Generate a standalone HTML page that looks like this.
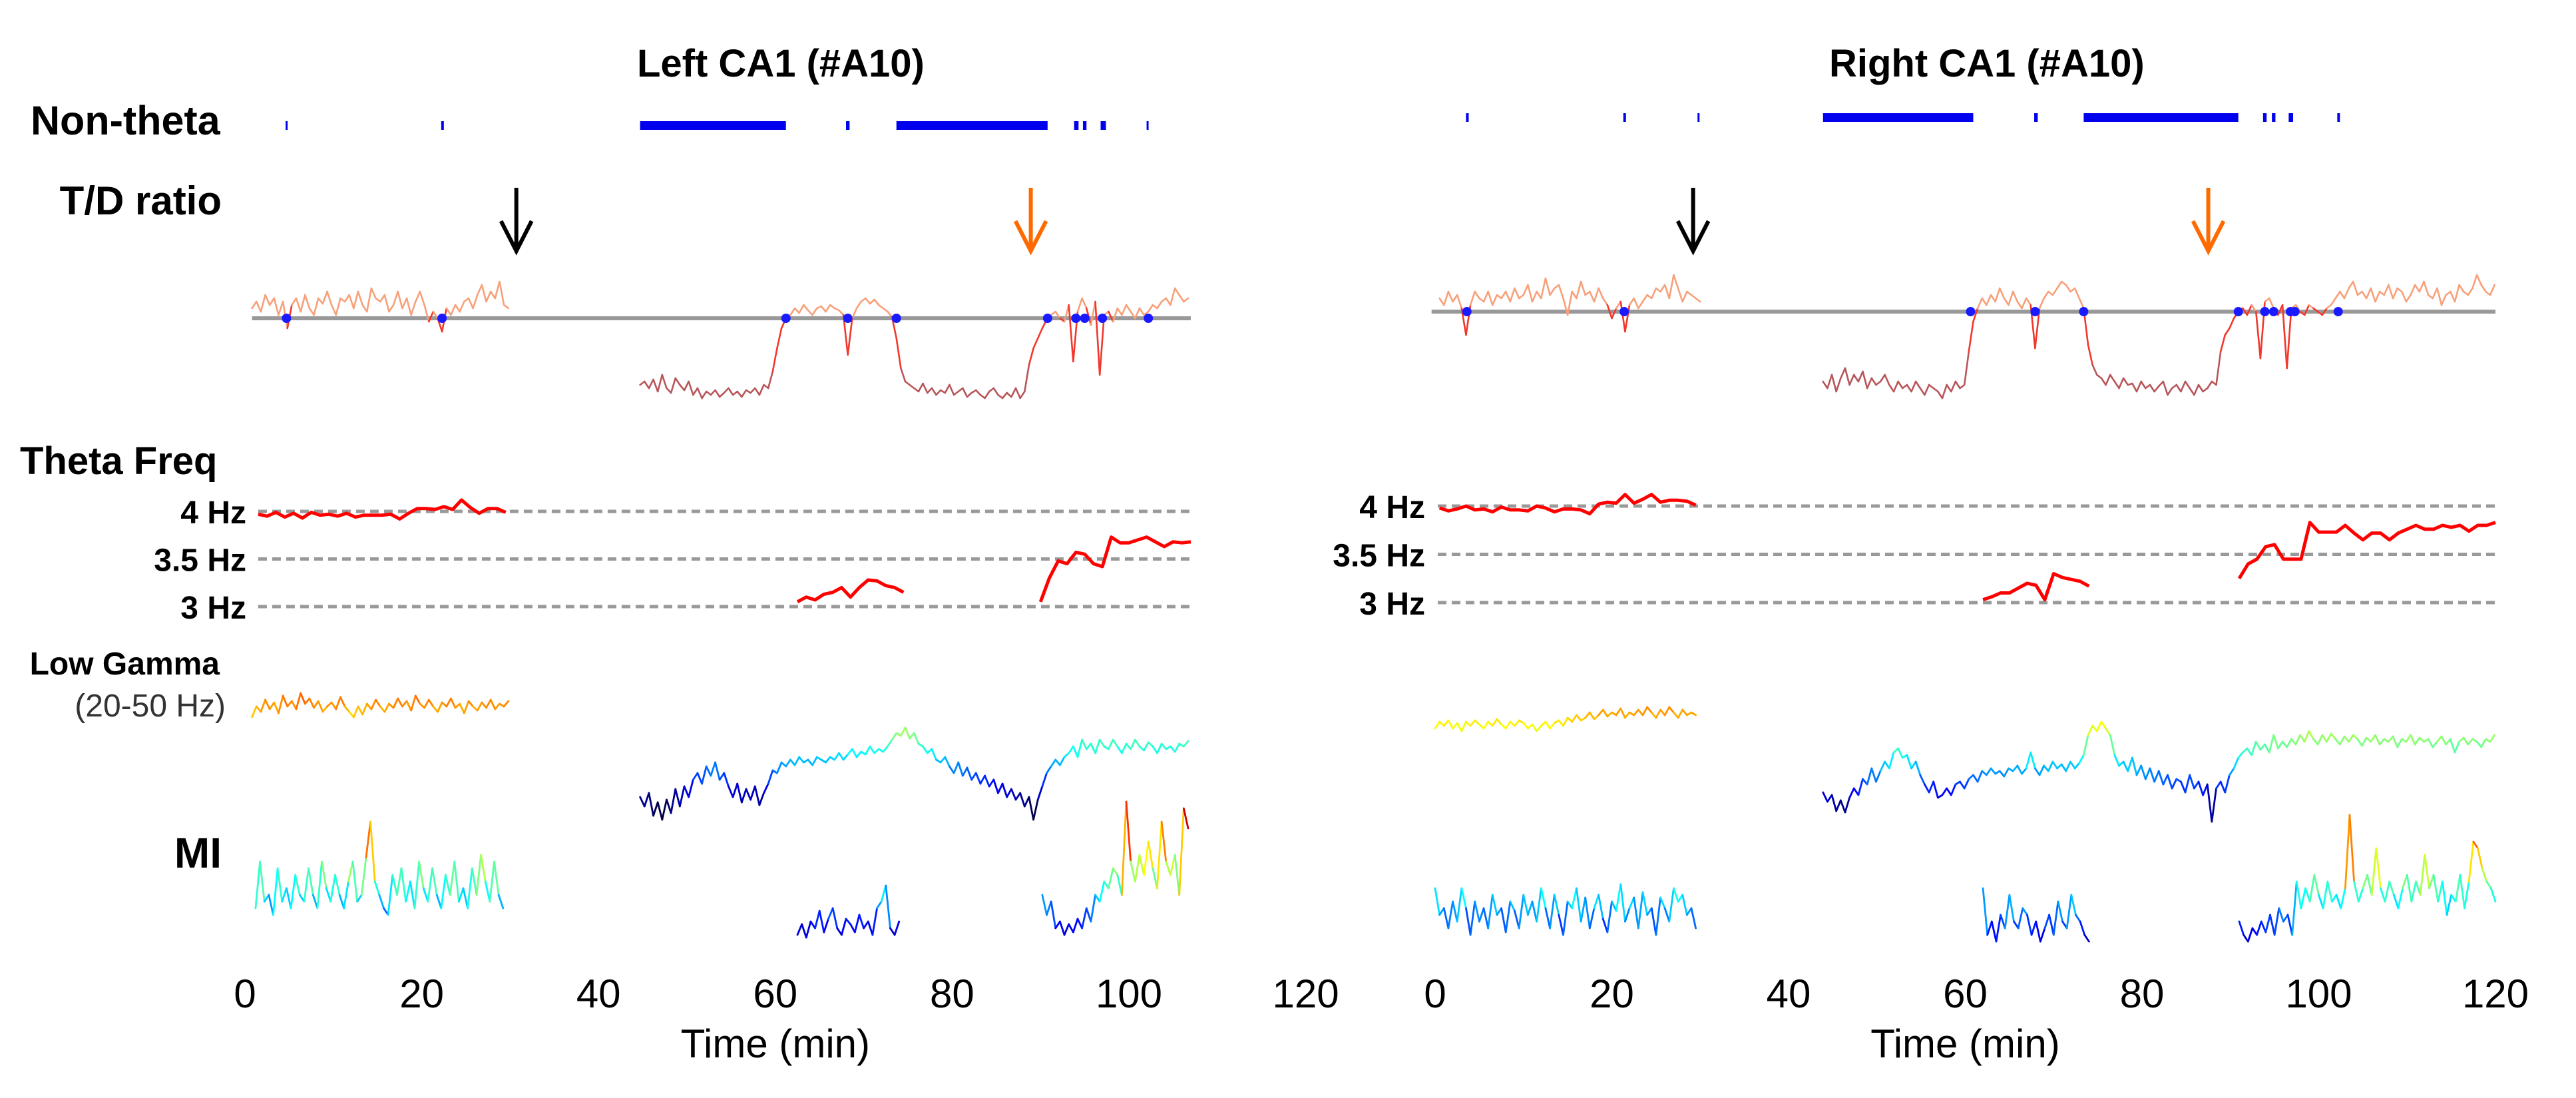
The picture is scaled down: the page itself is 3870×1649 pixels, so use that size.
<!DOCTYPE html>
<html><head><meta charset="utf-8"><title>CA1 recordings</title>
<style>
html,body{margin:0;padding:0;background:#fff;}
svg{display:block;font-family:"Liberation Sans",Arial,sans-serif;}
.lbl{font-weight:bold;fill:#000;}
</style></head>
<body>
<svg id="chart" width="3870" height="1649" viewBox="0 0 3870 1649" xmlns="http://www.w3.org/2000/svg">
<rect width="3870" height="1649" fill="#fff"/>
<text class="lbl" x="957" y="115" font-size="58">Left CA1 (#A10)</text>
<text class="lbl" x="2748" y="115" font-size="58">Right CA1 (#A10)</text>
<text class="lbl" x="46" y="202" font-size="61">Non-theta</text>
<text class="lbl" x="333" y="322" font-size="60" text-anchor="end">T/D ratio</text>
<text class="lbl" x="30" y="712" font-size="58">Theta Freq</text>
<text class="lbl" x="330" y="1013" font-size="48" text-anchor="end">Low Gamma</text>
<text x="339" y="1076" font-size="48" text-anchor="end" fill="#333">(20-50 Hz)</text>
<text class="lbl" x="333" y="1303" font-size="64" text-anchor="end">MI</text>
<g id="marks"></g>
</svg>
<script>
// ---------- data ----------
const xTicks = [0,20,40,60,80,100,120];
const hzTicks = [4,3.5,3];
const hzTickLabels = ["4 Hz","3.5 Hz","3 Hz"];

const leftNonTheta = [[4.6,4.7],[22.2,22.5],[44.7,61.2],[68.0,68.4],[73.7,90.8],[93.8,94.3],[94.8,95.2],[96.8,97.4],[102.0,102.1]];
const rightNonTheta = [[3.5,3.8],[21.3,21.6],[29.7,29.8],[43.9,60.9],[67.8,68.2],[73.4,90.9],[93.7,94.1],[94.7,95.1],[96.6,97.1],[102.1,102.4]];
const leftDots = [4.7,22.3,61.2,68.2,73.7,90.8,94,95,97,102.2];
const rightDots = [3.6,21.4,60.6,67.9,73.4,90.9,93.9,94.9,96.8,97.3,102.2];
const leftArrows = [30.7,88.9];
const rightArrows = [29.2,87.5];

const leftTdStarts = [0.8,44.7];
const leftTd1 = [0.15,0.25,0.1,0.35,0.2,0.3,0.05,0.25,-0.15,0.2,0.3,0.1,0.35,0.15,0.05,0.3,0.22,0.4,0.2,0.05,0.3,0.25,0.35,0.15,0.4,0.2,0.1,0.45,0.3,0.25,0.35,0.1,0.2,0.4,0.15,0.3,0.05,0.25,0.4,0.2,-0.05,0.1,0.0,-0.2,0.15,0.05,0.2,0.1,0.25,0.3,0.15,0.35,0.5,0.25,0.4,0.3,0.55,0.2,0.15];
const leftTd2 = [-1.0,-0.95,-1.05,-0.92,-1.1,-0.85,-1.05,-1.12,-0.9,-1.0,-1.08,-0.95,-1.15,-1.05,-1.2,-1.1,-1.15,-1.08,-1.18,-1.12,-1.05,-1.15,-1.1,-1.18,-1.08,-1.12,-1.05,-1.15,-1.0,-1.05,
 -0.8,-0.45,-0.15,0.0,
 0.05,0.15,0.08,0.2,0.12,0.05,0.15,0.18,0.1,0.2,0.15,0.12,0.05,
 -0.55,0.0,
 0.15,0.25,0.3,0.22,0.28,0.2,0.15,0.1,0.02,
 -0.3,-0.75,-0.95,-1.0,
 -1.05,-1.1,-0.98,-1.12,-1.05,-1.15,-1.08,-1.12,-1.0,-1.15,-1.1,-1.05,-1.18,-1.12,-1.08,-1.15,-1.2,-1.1,-1.05,-1.15,-1.2,-1.12,-1.18,-1.05,-1.2,-1.1,
 -0.7,-0.45,-0.3,-0.15,-0.02,
 0.05,0.1,0.0,-0.05,0.2,-0.65,0.1,0.3,0.15,-0.1,0.25,-0.85,0.05,0.1,-0.05,0.15,0.05,0.2,0.1,0.0,0.15,0.05,0.1,0.2,0.15,0.25,0.3,0.2,0.45,0.35,0.25,0.3];
const rightTdStarts = [0.5,43.9];
const rightTd1 = [0.2,0.1,0.3,0.15,0.25,0.05,-0.35,0.1,0.3,0.2,0.15,0.3,0.1,0.25,0.2,0.3,0.15,0.35,0.2,0.25,0.4,0.15,0.3,0.2,0.5,0.25,0.35,0.4,0.2,-0.05,0.3,0.2,0.45,0.25,0.3,0.15,0.35,0.2,0.1,-0.1,0.05,0.15,-0.3,0.1,0.2,0.05,0.15,0.25,0.2,0.35,0.3,0.4,0.2,0.55,0.35,0.15,0.3,0.25,0.2,0.15];
const rightTd2 = [-1.05,-1.15,-0.95,-1.2,-1.0,-0.85,-1.1,-0.95,-1.05,-0.9,-1.15,-1.0,-1.1,-1.05,-0.95,-1.1,-1.2,-1.05,-1.15,-1.1,-1.2,-1.05,-1.15,-1.25,-1.1,-1.15,-1.2,-1.3,-1.1,-1.2,-1.05,-1.15,-1.1,
 -0.6,-0.15,0.05,
 0.2,0.1,0.25,0.15,0.35,0.2,0.1,0.3,0.15,0.05,0.2,0.1,
 -0.55,0.05,
 0.2,0.3,0.25,0.35,0.45,0.4,0.3,0.35,0.2,0.05,
 -0.5,-0.8,-0.95,
 -1.0,-1.1,-0.95,-1.05,-1.15,-1.0,-1.1,-1.08,-1.2,-1.05,-1.15,-1.1,-1.2,-1.12,-1.05,-1.25,-1.15,-1.1,-1.2,-1.05,-1.15,-1.25,-1.1,-1.2,-1.15,-1.05,-1.1,
 -0.6,-0.35,-0.25,-0.1,0.0,
 0.05,-0.05,0.1,0.0,-0.7,0.15,0.2,0.05,-0.05,0.1,-0.85,0.05,0.1,0.0,-0.05,0.1,0.05,0.0,-0.05,0.05,0.1,0.2,0.3,0.2,0.35,0.45,0.25,0.3,0.2,0.35,0.15,0.3,0.25,0.4,0.2,0.35,0.3,0.15,0.25,0.4,0.3,0.45,0.25,0.2,0.35,0.1,0.25,0.3,0.15,0.4,0.3,0.25,0.35,0.55,0.4,0.3,0.25,0.4];

const leftThetaStarts = [1.5,62.5,90];
const leftTheta1 = [3.97,3.95,3.99,3.94,3.98,3.93,3.99,3.96,3.97,3.95,3.98,3.94,3.96,3.96,3.96,3.97,3.92,3.98,4.03,4.03,4.02,4.05,4.02,4.12,4.04,3.98,4.03,4.03,3.99];
const leftTheta2 = [3.05,3.1,3.07,3.13,3.15,3.2,3.1,3.2,3.28,3.27,3.22,3.2,3.15];
const leftTheta3 = [3.05,3.3,3.48,3.45,3.57,3.55,3.45,3.42,3.73,3.67,3.67,3.7,3.73,3.68,3.63,3.68,3.67,3.68];
const rightThetaStarts = [0.5,62,91];
const rightTheta1 = [3.98,3.95,3.97,4.0,3.96,3.97,3.94,3.99,3.96,3.96,3.95,4.0,3.98,3.94,3.97,3.97,3.96,3.92,4.02,4.04,4.03,4.12,4.03,4.07,4.12,4.04,4.06,4.06,4.05,4.01];
const rightTheta2 = [3.03,3.06,3.1,3.1,3.15,3.2,3.18,3.03,3.3,3.26,3.24,3.22,3.17];
const rightTheta3 = [3.25,3.4,3.45,3.58,3.6,3.45,3.45,3.45,3.83,3.73,3.73,3.73,3.8,3.72,3.65,3.72,3.72,3.65,3.72,3.76,3.8,3.76,3.76,3.8,3.78,3.8,3.74,3.8,3.8,3.83];

const leftGammaStarts = [0.8,44.7];
const leftGamma1 = [0.72,0.8,0.76,0.85,0.78,0.83,0.75,0.88,0.8,0.84,0.78,0.9,0.82,0.86,0.79,0.84,0.76,0.8,0.83,0.78,0.87,0.8,0.76,0.72,0.8,0.74,0.82,0.78,0.85,0.8,0.76,0.82,0.79,0.86,0.8,0.84,0.77,0.88,0.82,0.79,0.85,0.8,0.76,0.83,0.8,0.86,0.79,0.82,0.75,0.84,0.8,0.77,0.83,0.79,0.85,0.78,0.82,0.8,0.84];
const leftGamma2 = [0.12,0.05,0.15,-0.02,0.08,-0.05,0.1,0.0,0.18,0.05,0.2,0.12,0.25,
 0.3,0.22,0.35,0.28,0.38,0.25,0.3,0.2,
 0.12,0.22,0.08,0.18,0.1,0.2,0.06,0.15,0.22,
 0.32,0.3,0.38,0.35,0.4,0.36,0.42,0.38,0.4,0.36,0.42,0.4,0.38,
 0.42,0.4,0.45,0.4,0.44,0.48,0.42,0.46,0.44,0.5,0.45,0.48,0.46,
 0.5,0.55,0.6,0.58,0.64,0.56,0.6,0.52,0.5,0.45,0.48,0.4,
 0.38,0.42,0.35,0.3,0.38,0.28,0.34,0.25,0.3,0.22,0.28,0.2,0.25,0.15,0.22,0.12,0.18,0.1,
 0.15,0.05,0.12,-0.05,0.1,0.2,0.3,0.35,
 0.4,0.36,0.42,0.45,0.5,0.42,0.55,0.48,0.52,0.45,0.55,0.5,0.48,0.55,0.5,0.45,0.52,0.48,0.55,0.5,0.47,0.53,0.5,0.45,0.52,0.48,0.5,0.46,0.52,0.5,0.54];
const rightGammaStarts = [0,43.9];
const rightGamma1 = [0.6,0.65,0.62,0.66,0.6,0.64,0.58,0.65,0.62,0.66,0.63,0.6,0.65,0.62,0.67,0.63,0.6,0.65,0.62,0.66,0.64,0.6,0.63,0.58,0.62,0.65,0.6,0.64,0.66,0.62,0.68,0.65,0.7,0.66,0.68,0.72,0.67,0.7,0.74,0.69,0.72,0.7,0.75,0.68,0.72,0.7,0.74,0.7,0.76,0.72,0.68,0.74,0.7,0.76,0.72,0.68,0.74,0.7,0.72,0.7];
const rightGamma2 = [0.12,0.05,0.1,-0.02,0.06,-0.03,0.08,
 0.15,0.1,0.22,0.18,0.3,0.2,0.28,0.35,0.3,0.42,0.45,0.38,
 0.4,0.3,0.35,0.25,0.18,0.12,0.2,0.08,0.1,
 0.15,0.1,0.18,0.2,0.15,0.22,0.25,0.2,0.28,0.25,0.3,0.26,0.28,0.24,0.3,0.28,0.32,0.26,0.3,0.42,
 0.3,0.25,0.32,0.28,0.35,0.3,0.33,0.28,0.35,0.3,0.34,0.4,
 0.55,0.62,0.58,0.65,0.6,0.55,0.4,0.32,
 0.35,0.28,0.38,0.25,0.32,0.22,0.3,0.2,0.28,0.18,0.25,0.15,0.22,0.2,0.12,0.25,0.15,0.2,0.1,0.18,
 -0.1,0.15,0.2,0.12,0.25,0.3,0.38,0.42,
 0.45,0.4,0.5,0.44,0.48,0.42,0.55,0.45,0.5,0.46,0.52,0.48,0.55,0.5,0.58,0.52,0.48,0.55,0.5,0.56,0.52,0.48,0.54,0.5,0.55,0.52,0.47,0.53,0.5,0.55,0.48,0.52,0.5,0.54,0.46,0.52,0.5,0.55,0.48,0.53,0.5,0.52,0.46,0.5,0.54,0.48,0.52,0.42,0.5,0.53,0.48,0.52,0.5,0.46,0.52,0.5,0.55];

const leftMiStarts = [1.2,62.5,90.2];
const leftMi1 = [0.2,0.55,0.25,0.3,0.15,0.5,0.25,0.35,0.2,0.45,0.3,0.25,0.5,0.3,0.2,0.55,0.35,0.25,0.45,0.3,0.2,0.4,0.55,0.25,0.3,0.58,0.85,0.4,0.3,0.2,0.15,0.45,0.3,0.5,0.25,0.4,0.2,0.55,0.35,0.25,0.5,0.3,0.2,0.45,0.3,0.55,0.25,0.35,0.2,0.5,0.3,0.6,0.4,0.25,0.55,0.3,0.2];
const leftMi2 = [0.0,0.08,-0.02,0.1,0.05,0.18,0.02,0.12,0.2,0.05,0.0,0.12,0.08,0.02,0.15,0.05,0.1,0.0,0.2,0.25,0.37,0.05,0.0,0.1];
const leftMi3 = [0.3,0.15,0.25,0.05,0.1,0.0,0.08,0.02,0.12,0.05,0.2,0.1,0.3,0.25,0.4,0.35,0.5,0.45,0.3,1.0,0.55,0.4,0.6,0.45,0.7,0.5,0.35,0.85,0.55,0.45,0.6,0.3,0.95,0.8];
const rightMiStarts = [0,62,91];
const rightMi1 = [0.45,0.25,0.3,0.15,0.35,0.2,0.45,0.3,0.1,0.35,0.2,0.3,0.15,0.4,0.25,0.3,0.12,0.35,0.28,0.15,0.4,0.25,0.35,0.2,0.45,0.3,0.15,0.4,0.25,0.1,0.35,0.3,0.45,0.2,0.38,0.15,0.3,0.4,0.22,0.12,0.35,0.28,0.48,0.2,0.3,0.38,0.15,0.42,0.25,0.3,0.1,0.38,0.3,0.2,0.45,0.35,0.4,0.25,0.3,0.15];
const rightMi2 = [0.45,0.1,0.2,0.05,0.25,0.15,0.4,0.2,0.15,0.3,0.25,0.1,0.2,0.05,0.15,0.25,0.1,0.35,0.2,0.15,0.4,0.25,0.2,0.1,0.05];
const rightMi3 = [0.2,0.1,0.05,0.15,0.1,0.2,0.12,0.25,0.1,0.3,0.2,0.25,0.1,0.5,0.3,0.45,0.35,0.55,0.4,0.3,0.5,0.35,0.4,0.3,0.45,1.0,0.5,0.35,0.45,0.55,0.4,0.75,0.45,0.35,0.5,0.4,0.3,0.45,0.55,0.35,0.5,0.4,0.7,0.45,0.55,0.35,0.5,0.25,0.4,0.35,0.55,0.3,0.5,0.8,0.75,0.6,0.5,0.45,0.35];

// ---------- layout ----------
const NS = "http://www.w3.org/2000/svg";
const marks = document.getElementById('marks');
const panels = [
 {side:'left', x0:368, ppm:13.28, ntY:188, tdY:478, tdK:100, tdX:[0.8,107], hz3:911, hzK:143, hzX:[1.5,107], hzLabelX:370, gY:1221, gC:-0.08, miY:1404, miC:0.05,
  nonTheta:leftNonTheta, dots:leftDots, arrows:leftArrows,
  td:[[leftTdStarts[0],leftTd1],[leftTdStarts[1],leftTd2]],
  theta:[[leftThetaStarts[0],leftTheta1],[leftThetaStarts[1],leftTheta2],[leftThetaStarts[2],leftTheta3]],
  gamma:[[leftGammaStarts[0],leftGamma1],[leftGammaStarts[1],leftGamma2]],
  mi:[[leftMiStarts[0],leftMi1],[leftMiStarts[1],leftMi2],[leftMiStarts[2],leftMi3]]},
 {side:'right', x0:2156, ppm:13.275, ntY:176, tdY:468, tdK:100, tdX:[-0.4,120], hz3:905, hzK:145, hzX:[0.3,120], hzLabelX:2141, gY:1214, gC:0, miY:1424, miC:0,
  nonTheta:rightNonTheta, dots:rightDots, arrows:rightArrows,
  td:[[rightTdStarts[0],rightTd1],[rightTdStarts[1],rightTd2]],
  theta:[[rightThetaStarts[0],rightTheta1],[rightThetaStarts[1],rightTheta2],[rightThetaStarts[2],rightTheta3]],
  gamma:[[rightGammaStarts[0],rightGamma1],[rightGammaStarts[1],rightGamma2]],
  mi:[[rightMiStarts[0],rightMi1],[rightMiStarts[1],rightMi2],[rightMiStarts[2],rightMi3]]}
];

function mk(tag, attrs, parent){
  const e = document.createElementNS(NS, tag);
  for (const k in attrs) e.setAttribute(k, attrs[k]);
  (parent||marks).appendChild(e);
  return e;
}
function clamp(v){return Math.max(0,Math.min(1,v));}
function jet(v){
  const r = clamp(1.5-Math.abs(4*v-3)), g = clamp(1.5-Math.abs(4*v-2)), b = clamp(1.5-Math.abs(4*v-1));
  return 'rgb('+Math.round(r*255)+','+Math.round(g*255)+','+Math.round(b*255)+')';
}
function tdColor(v){ if (v >= 0.03) return '#f7a07a'; if (v < -0.8) return '#b8565a'; return '#f2382c'; }

panels.forEach(p => {
  const X = t => p.x0 + t*p.ppm;
  const g = mk('g', {});
  
  

  xTicks.forEach(t => {
    const tx = mk('text', {x:X(t), y:1513, 'font-size':60, 'text-anchor':'middle', fill:'#000'}, g);
    tx.textContent = String(t);
    
    
  });
  const xt = mk('text', {x:X(60), y:1588, 'font-size':60, 'text-anchor':'middle', fill:'#000'}, g);
  xt.textContent = 'Time (min)';
  
  

  p.nonTheta.forEach(iv => {
    const r = mk('rect', {x:X(iv[0]), y:p.ntY-6, width:Math.max(3, (iv[1]-iv[0])*p.ppm), height:13, fill:'#0000ee'}, g);
    
    
  });

  p.arrows.forEach((t, i) => {
    const col = i === 0 ? '#000' : '#ff6a00';
    const ax = X(t);
    const a = mk('path', {d:'M'+ax+' 282 L'+ax+' 377 M'+(ax-23)+' 332 L'+ax+' 377 L'+(ax+23)+' 332', stroke:col, 'stroke-width':6, fill:'none'}, g);
    
    
  });

  const bl = mk('line', {x1:X(p.tdX[0]), x2:X(p.tdX[1]), y1:p.tdY, y2:p.tdY, stroke:'#999', 'stroke-width':6}, g);
  
  
  p.td.forEach(([start, vals]) => {
    for (let i = 0; i < vals.length-1; i++) {
      const l = mk('line', {x1:X(start+i*0.5), y1:p.tdY - vals[i]*p.tdK, x2:X(start+(i+1)*0.5), y2:p.tdY - vals[i+1]*p.tdK, stroke:tdColor((vals[i]+vals[i+1])/2), 'stroke-width':2.6, 'stroke-linecap':'round'}, g);
      
      
    }
  });
  p.dots.forEach(t => {
    const c = mk('circle', {cx:X(t), cy:p.tdY, r:7, fill:'#1a1aff'}, g);
    
    
  });

  const hy = f => p.hz3 - (f-3)*p.hzK;
  hzTicks.forEach((f, i) => {
    const l = mk('line', {x1:X(p.hzX[0]), x2:X(p.hzX[1]), y1:hy(f), y2:hy(f), stroke:'#999', 'stroke-width':5, 'stroke-dasharray':'13 8'}, g);
    
    
    const tx = mk('text', {x:p.hzLabelX, y:hy(f)+18, 'font-size':48, 'font-weight':'bold', 'text-anchor':'end', fill:'#000'}, g);
    tx.textContent = hzTickLabels[i];
    
    
  });
  p.theta.forEach(([start, vals]) => {
    const pts = vals.map((f, i) => X(start+i)+','+hy(f)).join(' ');
    const pl = mk('polyline', {points:pts, fill:'none', stroke:'#ff0000', 'stroke-width':5, 'stroke-linejoin':'round'}, g);
    
    
  });

  [['gamma', p.gamma, p.gY, p.gC], ['mi', p.mi, p.miY, p.miC]].forEach(([nm, segs, base, cOff]) => {
    segs.forEach(([start, vals]) => {
      for (let i = 0; i < vals.length-1; i++) {
        const l = mk('line', {x1:X(start+i*0.5), y1:base - vals[i]*200, x2:X(start+(i+1)*0.5), y2:base - vals[i+1]*200, stroke:jet((vals[i]+vals[i+1])/2 + cOff), 'stroke-width':2.8, 'stroke-linecap':'round'}, g);
        
        
      }
    });
  });
});
</script>
</body></html>
